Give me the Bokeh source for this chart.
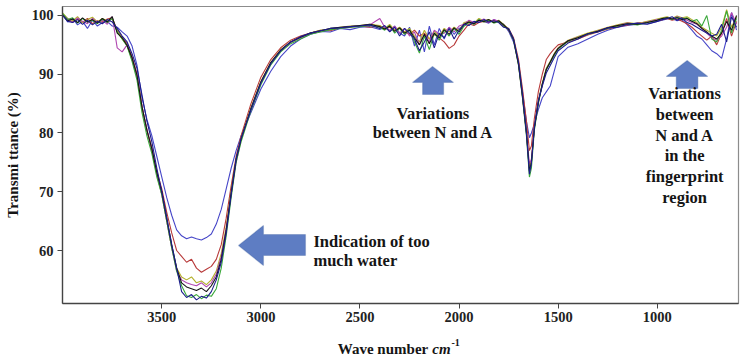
from bokeh.plotting import figure
from bokeh.layouts import column
from bokeh.models import Range1d, FixedTicker, Label, PolyAnnotation
from bokeh.core.properties import value
from bokeh.embed import file_html
from bokeh.resources import INLINE

# ---------------- data ----------------
wavenumber = [
    4000, 3975, 3950, 3925, 3900, 3875, 3850, 3825, 3800, 3775, 3750, 3725, 3700,
    3675, 3650, 3625, 3600, 3575, 3550, 3525, 3500, 3475, 3450, 3425, 3400,
    3375, 3350, 3325, 3300, 3275, 3250, 3225, 3200, 3175, 3150, 3125, 3100,
    3050, 3000, 2950, 2900, 2850, 2800, 2750, 2700, 2650, 2600, 2550, 2500, 2450,
    2400, 2375, 2350, 2325, 2300, 2275, 2250, 2225, 2200, 2175, 2150, 2125, 2100,
    2075, 2050, 2025, 2000, 1975, 1950, 1925, 1900, 1875, 1850, 1825, 1800,
    1775, 1750, 1725, 1700, 1680, 1660, 1645, 1635, 1620, 1600, 1580, 1560, 1540, 1520, 1500,
    1450, 1400, 1350, 1300, 1250, 1200, 1150, 1100, 1050, 1000,
    975, 950, 925, 900, 875, 850, 825, 800, 775, 750, 725, 700, 675, 650, 625, 600,
]

blue = [
    100.2, 98.9, 99.5, 98.4, 99.0, 97.8, 99.2, 98.2, 98.8, 99.0, 98.2, 98.0, 97.2,
    96.5, 94.8, 91.5, 86.0, 82.3, 79.5, 76.0, 72.5, 69.0, 66.0, 63.5, 62.5,
    62.0, 62.3, 62.0, 61.8, 62.2, 62.8, 64.5, 67.0, 70.5, 74.0, 77.0, 79.5,
    83.5, 87.5, 90.5, 93.0, 94.8, 96.0, 96.8, 97.3, 97.2, 97.8, 97.6, 98.0, 98.1,
    97.6, 98.0, 97.3, 98.2, 97.0, 96.5, 98.0, 94.8, 97.5, 93.8, 98.2, 95.0, 97.8,
    96.0, 98.0, 96.8, 97.8, 98.2, 99.0, 98.6, 99.2, 99.0, 98.7, 99.3, 98.9,
    98.5, 97.3, 95.5, 92.0, 87.0, 82.0, 79.2, 80.0, 81.5, 84.0, 86.0, 87.0, 88.0, 90.5, 93.0,
    94.6, 95.2, 96.0, 96.8, 97.5, 98.0, 98.3, 98.5, 98.6, 99.0,
    99.2, 99.4, 99.5, 99.1, 99.3, 98.5, 97.5, 96.5, 96.0, 95.0, 94.0, 93.5, 92.7, 96.0, 100.5, 97.5,
]

red = [
    100.1, 99.2, 98.9, 99.4, 98.8, 99.5, 98.6, 99.1, 98.9, 99.4, 99.6, 97.5, 96.3,
    95.2, 93.0, 90.0, 84.5, 80.5, 77.5, 73.5, 70.5, 66.5, 63.0, 60.0, 59.0,
    58.0, 58.5, 57.0, 56.3, 56.8, 57.3, 58.5, 61.0, 65.5, 71.0, 76.0, 79.5,
    85.0, 89.5, 92.5, 94.5, 95.8, 96.5, 97.0, 97.5, 97.4, 97.9, 98.0, 98.2, 98.0,
    98.2, 97.6, 98.0, 97.5, 97.9, 97.2, 96.8, 97.5, 96.5, 97.0, 96.0, 96.8, 96.2,
    95.5, 94.4, 95.0, 96.5, 97.5, 98.6, 98.3, 98.8, 99.0, 98.9, 99.2, 98.9,
    98.2, 97.8, 96.2, 92.5, 87.5, 82.0, 77.0, 77.8, 82.5, 87.0, 90.0, 92.5, 93.5, 94.3, 95.0,
    95.5, 96.0, 96.7, 97.2, 97.7, 98.1, 98.4, 98.7, 98.9, 99.1,
    99.3, 99.5, 99.2, 99.4, 99.0, 98.6, 98.0, 97.2, 96.5, 95.8, 96.5, 95.0, 97.0, 99.5, 96.5, 99.0,
]

olive = [
    100.4, 99.5, 99.1, 99.8, 98.8, 99.3, 99.7, 98.9, 99.5, 99.1, 99.4, 97.4, 96.0,
    94.8, 92.5, 89.5, 84.5, 80.3, 77.0, 73.0, 69.5, 65.0, 60.5, 57.0, 55.5,
    55.0, 55.5, 54.5, 54.8, 54.2, 55.0, 56.5, 59.5, 64.0, 70.0, 75.5, 79.0,
    84.3, 88.8, 92.0, 94.2, 95.5, 96.3, 97.0, 97.5, 97.7, 98.0, 98.2, 98.3, 98.5,
    98.3, 97.8, 98.5, 97.5, 98.0, 97.2, 97.8, 96.5, 95.5, 97.5, 96.0, 97.3, 96.5,
    97.8, 97.2, 98.0, 97.5, 98.8, 99.0, 98.7, 99.5, 99.1, 99.3, 98.9, 99.2,
    98.5, 97.7, 96.0, 91.8, 86.2, 80.0, 74.0, 75.5, 81.0, 85.5, 88.5, 91.0, 92.2, 93.5, 94.5,
    95.8, 96.4, 97.0, 97.5, 98.0, 98.4, 98.8, 98.6, 99.0, 99.4,
    99.6, 99.8, 99.5, 99.9, 99.6, 99.8, 99.3, 98.8, 98.0, 97.5, 97.0, 96.5, 98.0, 101.0, 98.0, 99.8,
]

magenta = [
    100.2, 99.4, 98.8, 99.6, 99.0, 98.6, 99.5, 98.8, 99.2, 98.5, 99.8, 94.5, 93.8,
    95.0, 92.5, 89.5, 84.5, 80.5, 77.0, 73.0, 69.5, 65.0, 60.5, 56.5, 55.0,
    54.5, 54.2, 54.0, 54.5, 53.8, 54.5, 56.0, 59.0, 63.5, 69.5, 75.0, 78.8,
    84.0, 88.6, 91.8, 94.0, 95.4, 96.2, 96.9, 97.3, 97.7, 97.9, 98.1, 98.2, 98.4,
    99.5, 98.0, 97.5, 98.2, 97.0, 97.8, 96.5, 97.2, 95.0, 96.8, 95.5, 97.5, 96.8,
    97.0, 98.0, 97.2, 98.2, 98.5, 99.2, 98.8, 99.0, 99.4, 98.8, 99.3, 99.0,
    98.4, 97.5, 95.9, 91.6, 86.0, 79.8, 74.8, 75.5, 81.0, 85.3, 88.2, 90.8, 92.0, 93.3, 94.4,
    95.7, 96.3, 96.8, 97.4, 97.9, 98.3, 98.7, 98.5, 98.9, 99.3,
    99.4, 99.6, 99.4, 99.8, 99.5, 99.2, 98.8, 98.5, 97.8, 97.0, 96.2, 95.8, 96.5, 98.0, 100.5, 98.5,
]

green = [
    100.3, 99.3, 99.6, 98.7, 99.5, 98.9, 99.2, 98.6, 99.4, 98.8, 99.5, 97.2, 96.0,
    94.8, 92.2, 89.0, 83.5, 79.5, 76.5, 72.5, 69.5, 65.0, 60.5, 56.5, 54.0,
    52.3, 52.0, 52.5, 51.8, 52.4, 52.2, 53.5, 57.0, 62.5, 69.0, 75.0, 78.5,
    83.8, 88.2, 91.6, 93.8, 95.2, 96.0, 96.8, 97.2, 97.6, 97.8, 98.0, 98.1, 98.3,
    98.0, 97.5, 98.3, 97.0, 97.8, 96.8, 97.6, 95.5, 93.6, 96.5, 94.2, 97.0, 95.8,
    97.5, 96.5, 97.8, 96.8, 98.2, 98.8, 98.5, 99.3, 98.9, 99.2, 98.7, 99.0,
    98.3, 97.6, 95.8, 91.5, 86.0, 79.5, 72.5, 74.0, 80.5, 85.0, 88.3, 90.8, 92.0, 93.2, 94.3,
    95.6, 96.2, 96.8, 97.3, 97.8, 98.2, 98.6, 98.4, 98.8, 99.2,
    99.5, 99.6, 99.3, 99.7, 99.4, 99.6, 99.0, 99.3, 98.2, 100.0, 96.0, 95.5, 97.5, 100.8, 97.0, 99.5,
]

black = [
    100.0, 99.1, 99.4, 98.8, 99.6, 98.9, 99.3, 98.7, 99.5, 98.9, 99.8, 97.0, 96.2,
    94.9, 92.8, 89.8, 84.5, 80.5, 77.3, 73.3, 70.0, 65.5, 61.0, 57.0, 54.5,
    53.8, 53.5, 53.2, 53.6, 53.0, 54.0, 55.5, 58.5, 63.5, 69.8, 75.5, 79.0,
    84.2, 88.7, 92.0, 94.1, 95.5, 96.3, 97.0, 97.4, 97.8, 98.0, 98.1, 98.3, 98.5,
    98.1, 97.7, 98.2, 97.3, 97.9, 97.0, 97.5, 96.2, 95.0, 96.8, 95.2, 97.0, 96.2,
    97.6, 96.8, 97.9, 97.2, 98.5, 98.9, 98.6, 99.2, 99.0, 99.3, 98.8, 99.1,
    98.4, 97.6, 95.9, 91.7, 86.3, 80.2, 73.5, 75.0, 80.8, 85.2, 88.3, 90.8, 92.1, 93.4, 94.4,
    95.7, 96.2, 96.9, 97.3, 97.9, 98.3, 98.6, 98.5, 98.8, 99.2,
    99.5, 99.6, 99.4, 99.6, 99.3, 99.5, 99.0, 98.6, 97.8, 97.2, 96.5, 96.0, 97.0, 99.0, 97.5, 100.0,
]

navy = [
    100.0, 99.0, 98.8, 99.3, 98.5, 99.2, 98.4, 99.0, 98.6, 99.3, 98.9, 97.8, 96.5,
    95.5, 93.5, 91.0, 86.5, 82.0, 78.5, 74.0, 70.0, 65.5, 61.0, 57.0, 53.0,
    52.0, 52.5, 51.6, 52.2, 51.9, 53.0, 55.0, 58.0, 63.0, 69.5, 75.5, 79.0,
    84.0, 88.5, 91.8, 94.0, 95.5, 96.4, 97.0, 97.4, 97.8, 97.9, 98.1, 98.2, 98.4,
    97.8, 98.3, 97.2, 98.0, 96.5, 97.8, 97.0, 96.0, 94.0, 95.5, 97.2, 94.5, 97.0,
    96.2, 97.8, 96.0, 97.5, 98.5, 98.3, 99.0, 98.8, 99.3, 98.9, 99.1, 98.8,
    98.0, 97.8, 96.0, 92.0, 86.5, 80.0, 73.0, 74.8, 81.0, 85.5, 88.0, 90.2, 91.5, 92.8, 94.0,
    95.3, 96.0, 96.9, 97.2, 97.9, 98.0, 98.5, 98.7, 98.5, 99.0,
    99.3, 99.5, 99.8, 99.2, 99.6, 98.8, 98.5, 98.0, 97.5, 97.0, 96.5, 96.8, 98.5, 95.5, 99.8, 98.0,
]

x_ticks = [3500, 3000, 2500, 2000, 1500, 1000]
y_ticks = [60, 70, 80, 90, 100]

series = [
    (blue, "#4646c8"),
    (red, "#b83a3a"),
    (olive, "#b4b02c"),
    (magenta, "#b046b0"),
    (green, "#3aa83a"),
    (black, "#151515"),
    (navy, "#1c1c8c"),
]

# ---------------- main figure ----------------
SERIF = "Liberation Serif"
W = 740
MAIN_H = 330
STRIP_H = 29

p = figure(width=W, height=MAIN_H, output_backend="svg", toolbar_location=None,
           x_range=Range1d(4001, 590), y_range=Range1d(50.98, 101.53),
           min_border_left=62, min_border_right=2, min_border_top=6, min_border_bottom=27)
p.grid.visible = False
p.background_fill_color = "white"
p.border_fill_color = "white"
p.outline_line_color = "#8c8c8c"
p.outline_line_width = 1.2

for ax, ticks in ((p.xaxis[0], x_ticks), (p.yaxis[0], y_ticks)):
    ax.ticker = FixedTicker(ticks=ticks)
    ax.minor_tick_line_color = None
    ax.major_tick_in = 0
    ax.major_tick_out = 5
    ax.major_tick_line_color = "#444444"
    ax.axis_line_color = "#444444"
    ax.axis_line_width = 1.3
    ax.major_label_text_font = SERIF
    ax.major_label_text_font_style = "bold"
    ax.major_label_text_font_size = "14.5px"
    ax.major_label_text_color = "#222222"
p.xaxis.major_label_standoff = 3
p.yaxis.major_label_standoff = 4
p.yaxis.axis_label = "Transmi ttance (%)"
p.yaxis.axis_label_text_font = SERIF
p.yaxis.axis_label_text_font_style = "bold"
p.yaxis.axis_label_text_font_size = "15px"
p.yaxis.axis_label_text_color = "#151515"
p.yaxis.axis_label_standoff = 8

for ys, col in series:
    p.line(x=wavenumber, y=ys, line_color=col, line_width=1.1)

# ---------------- block arrows (annotations) ----------------
ARROW_FILL = "#5e7dc3"
ARROW_LINE = "#3d5c9c"
arrows = [
    ([3113, 2987, 2987, 2775, 2775, 2987, 2987], [60.85, 64.26, 62.72, 62.72, 59.15, 59.15, 57.45]),
    ([2134, 2028, 2078, 2078, 2184, 2184, 2235], [91.32, 88.6, 88.6, 86.55, 86.55, 88.6, 88.6]),
    ([849, 745, 795, 795, 904, 904, 954.6], [92.34, 89.62, 89.62, 87.57, 87.57, 89.62, 89.62]),
]
for xs, ys in arrows:
    p.add_layout(PolyAnnotation(xs=xs, ys=ys, fill_color=ARROW_FILL, fill_alpha=1.0,
                                line_color=ARROW_LINE, line_width=1.2))


def txt(x, y, s, align="left"):
    p.add_layout(Label(x=x, y=y, text=s, text_font=SERIF, text_font_style="bold",
                       text_font_size="16.5px", text_color="#151515", text_align=align,
                       text_baseline="alphabetic"))


# left annotation
txt(2735, 61.6, "Indication of too")
txt(2735, 58.3, "much water")
# middle annotation
txt(2132, 83.37, "Variations", align="center")
txt(2132, 80.14, "between N and A", align="center")
# right annotation
right_lines = ["Variations", "between", "N and A", "in the", "fingerprint", "region"]
right_base = [86.7, 83.15, 79.6, 76.1, 72.6, 69.1]
for s, yb in zip(right_lines, right_base):
    txt(862, yb, s, align="center")

# ---------------- strip below for the x-axis title ----------------
strip = figure(width=W, height=STRIP_H, output_backend="svg", toolbar_location=None,
               x_range=p.x_range, y_range=Range1d(0, STRIP_H),
               x_axis_location=None, y_axis_location=None,
               min_border_left=62, min_border_right=2, min_border_top=0, min_border_bottom=0)
strip.grid.visible = False
strip.outline_line_color = None
strip.background_fill_color = "white"
strip.border_fill_color = "white"
strip.text(x=[2612], y=[10.7], text=["Wave number"], text_font=value(SERIF),
           text_font_style="bold", text_font_size="15px", text_color="#151515",
           text_align="left", text_baseline="alphabetic")
strip.text(x=[2135], y=[10.7], text=["cm"], text_font=value(SERIF),
           text_font_style="bold italic", text_font_size="15px", text_color="#151515",
           text_align="left", text_baseline="alphabetic")
strip.text(x=[2038], y=[17], text=["-1"], text_font=value(SERIF),
           text_font_style="bold", text_font_size="10px", text_color="#151515",
           text_align="left", text_baseline="alphabetic")

layout = column(p, strip, spacing=0)
open("out.html", "w").write(file_html(layout, INLINE))
